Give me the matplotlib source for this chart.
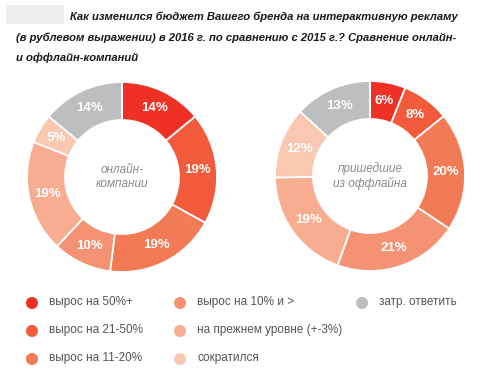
import matplotlib
matplotlib.use("Agg")
import matplotlib.pyplot as plt
from matplotlib.patches import Rectangle

categories = ["вырос на 50%+", "вырос на 21-50%", "вырос на 11-20%",
              "вырос на 10% и >", "на прежнем уровне (+-3%)", "сократился",
              "затр. ответить"]
online_values = [14, 19, 19, 10, 19, 5, 14]
offline_values = [6, 8, 20, 21, 19, 12, 13]
colors = ["#EE3124", "#F15A3A", "#F27A55", "#F59274", "#F8AD90", "#FAC7B1", "#BDBEC0"]
center_labels = ["онлайн-\nкомпании", "пришедшие\nиз оффлайна"]
title = ("Как изменился бюджет Вашего бренда на интерактивную рекламу\n"
         "(в рублевом выражении) в 2016 г. по сравнению с 2015 г.? Сравнение онлайн-\n"
         "и оффлайн-компаний")

W, H = 483, 378
fig = plt.figure(figsize=(W / 100, H / 100), dpi=100)
fig.patch.set_facecolor("white")
plt.rcParams['font.family'] = ['Liberation Sans', 'DejaVu Sans']

def pie_axes(cx, cy, r):
    return fig.add_axes([(cx - r) / W, (H - cy - r) / H, 2 * r / W, 2 * r / H])

for (cx, cy), vals, clab in [((122, 177), online_values, center_labels[0]),
                             ((370, 176), offline_values, center_labels[1])]:
    ax = pie_axes(cx, cy, 95)
    wedges, texts = ax.pie(vals, colors=colors, startangle=90, counterclock=False,
                           radius=1.0, labels=[f"{v}%" for v in vals],
                           labeldistance=0.8,
                           wedgeprops=dict(width=0.4, edgecolor="white", linewidth=1.3),
                           textprops=dict(color="white", fontsize=9.5, fontweight="bold",
                                          ha="center", va="center"))
    for t in texts:
        t.set_horizontalalignment("center")
    ax.text(0, 0, clab, ha="center", va="center", fontsize=8.5, style="italic",
            color="#8A8A8C", linespacing=1.25)
    ax.set_xlim(-1, 1)
    ax.set_ylim(-1, 1)
    ax.set_aspect("equal")
    ax.axis("off")

# overlay for title/legend in pixel coords
ov = fig.add_axes([0, 0, 1, 1])
ov.set_xlim(0, W)
ov.set_ylim(H, 0)
ov.axis("off")
ov.add_patch(Rectangle((6, 5), 58, 19, facecolor="#EFEFEF", edgecolor="none"))
lines = title.split("\n")
for (x, y), line in zip([(70, 17), (16, 38), (16, 58)], lines):
    ov.text(x, y, line, fontsize=8.1, fontweight="bold", style="italic",
            color="#1A1A1A", va="center", ha="left")

leg_x = [32, 180, 362]
leg_y = [303, 331, 359]
for i, (cat, col) in enumerate(zip(categories, colors)):
    col_i, row_i = divmod(i, 3)
    x, y = leg_x[col_i], leg_y[row_i]
    ov.scatter([x], [y], s=75, color=col, edgecolors="none")
    ov.text(x + 17, y - 1, cat, fontsize=8.5, color="#555555", va="center", ha="left")

fig.savefig("out.png", dpi=100, facecolor="white")
